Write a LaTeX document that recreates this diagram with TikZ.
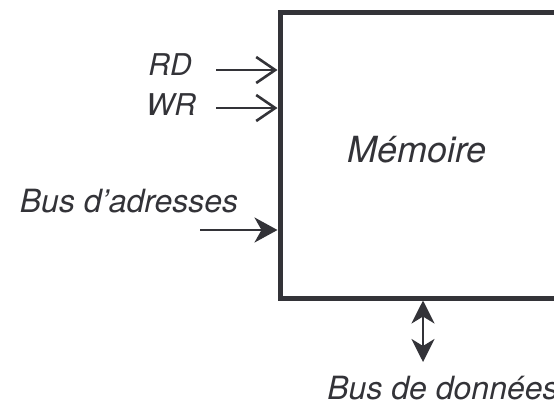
\documentclass[tikz,border=0pt]{standalone}
\usepackage{fontspec}
\setmainfont{TeX Gyre Heros}
\usetikzlibrary{arrows.meta}
\definecolor{ink}{RGB}{51,51,56}
\tikzset{
  lbl/.style={font=\fontsize{30}{32}\selectfont\itshape, text=ink, inner sep=0pt, anchor=base},
  biglbl/.style={lbl, font=\fontsize{32}{34}\selectfont\itshape},
  sig/.style={draw=ink, line width=2.6pt, -{Straight Barb[length=19pt,width=26pt]}},
  bus/.style={draw=ink, line width=2.8pt, -{Stealth[length=23pt,width=25pt,inset=7pt]}},
  bibus/.style={draw=ink, line width=2.8pt, {Stealth[length=23pt,width=23pt,inset=7pt]}-{Stealth[length=23pt,width=23pt,inset=7pt]}},
}
\begin{document}
\begin{tikzpicture}[x=1pt,y=-1pt]
\useasboundingbox (0,0) rectangle (554,410);
\clip (0,0) rectangle (554,410);
\node[draw=ink, line width=5pt, minimum width=320pt, minimum height=285.5pt, inner sep=0pt] (mem) at (440,155.25) {};
\node[lbl, font=\fontsize{36}{38}\selectfont\itshape] (memt) at (417,162) {Mémoire};
\node[lbl] (rd) at (170,75) {RD};
\node[lbl] (wr) at (171,115) {WR};
\node[biglbl] (ba) at (129,212) {Bus d’adresses};
\node[biglbl] (bd) at (443,399) {Bus de données};
\coordinate (rdS) at (216,70);
\coordinate (wrS) at (216,108);
\coordinate (baS) at (200,230);
\coordinate (bdE) at (423,362);
\draw[sig] (rdS) -- (rdS -| mem.west);
\draw[sig] (wrS) -- (wrS -| mem.west);
\draw[bus] (baS) -- (baS -| mem.west);
\draw[bibus] (bdE |- mem.south) -- (bdE);
\end{tikzpicture}
\end{document}
